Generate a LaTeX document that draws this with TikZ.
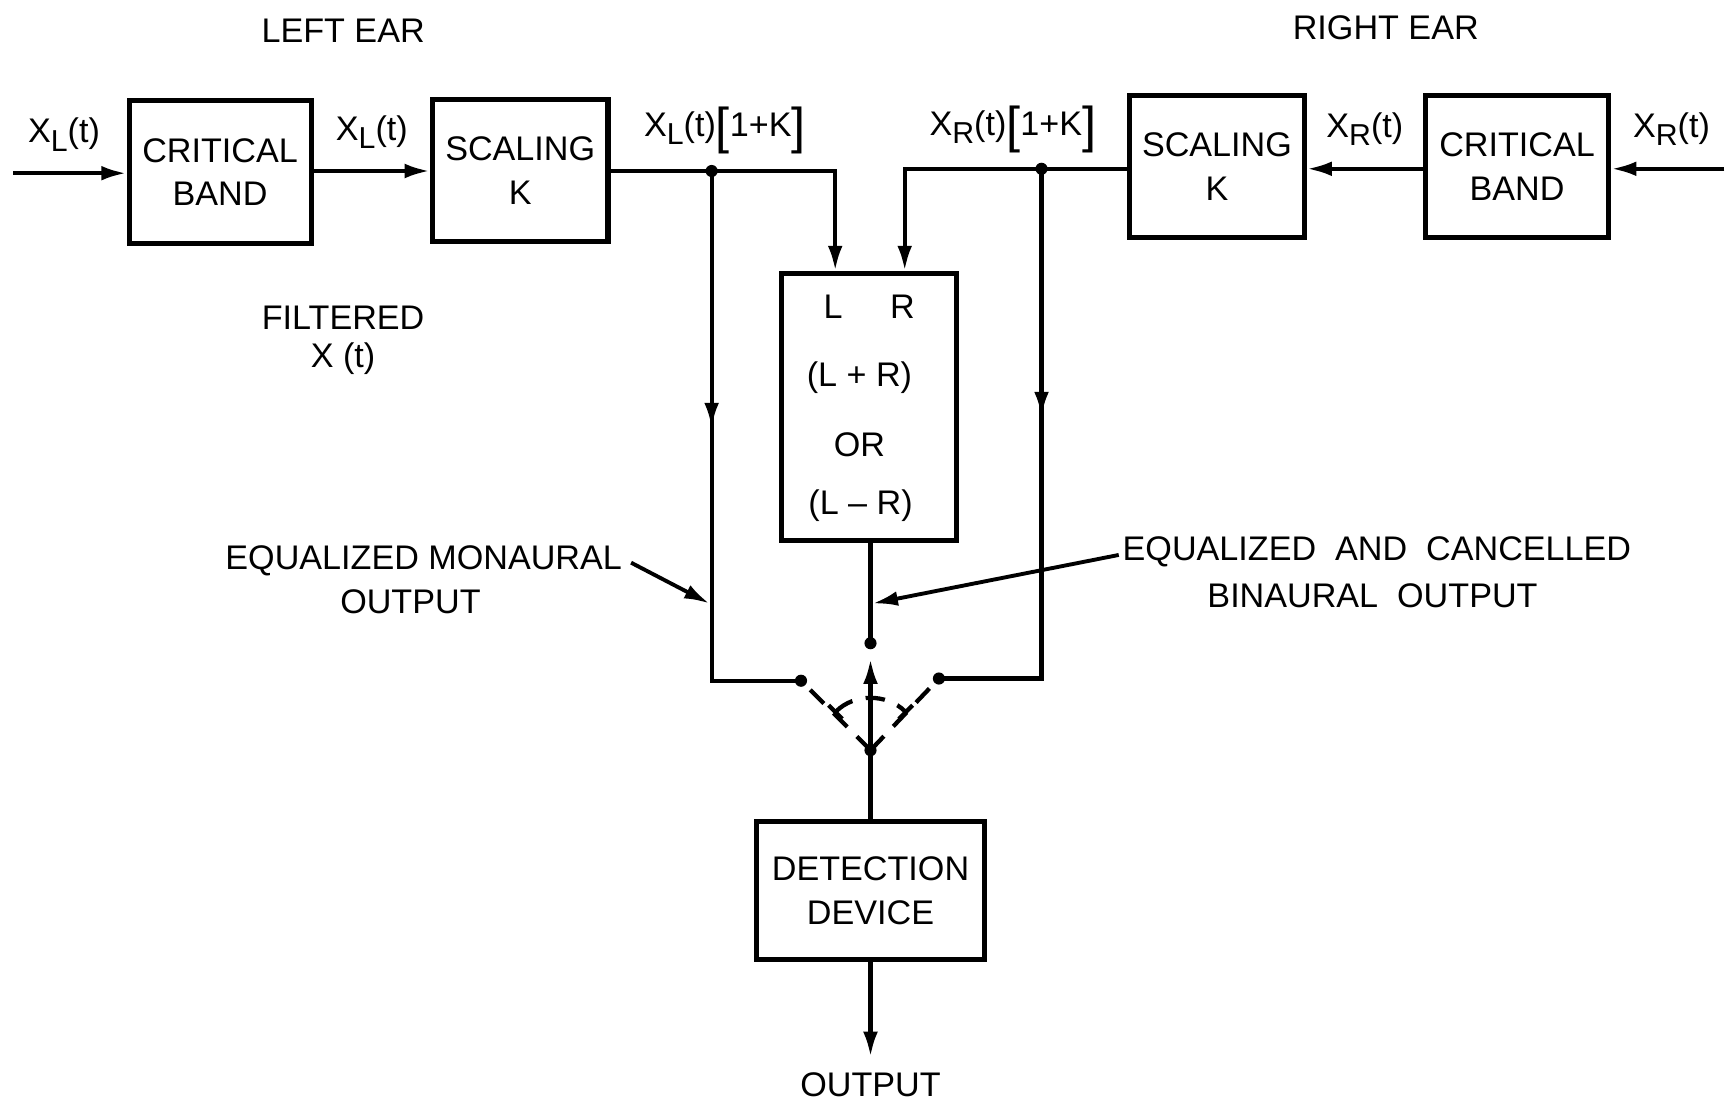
\documentclass[tikz,border=0pt]{standalone}
\usepackage{fontspec}
\setmainfont{Liberation Sans}
\usetikzlibrary{arrows.meta}
\newcommand\Xsub[1]{X\raisebox{-0.45ex}{\fontsize{7.8}{8}\selectfont #1}}
\newcommand\Brk[1]{{\fontsize{13}{13}\selectfont\raisebox{-0.25ex}{#1}}}
\begin{document}
\begin{tikzpicture}[x=0.01cm,y=-0.01cm,
  font=\fontsize{8.8}{10}\selectfont,
  line width=1.1pt,
  >={Latex[length=6.5pt,width=3.8pt]},
  blk/.style={draw,line width=1.3pt,align=center,inner sep=0pt,font=\fontsize{8.8}{11.3}\selectfont},
  lbl/.style={inner sep=1pt,align=center},
  swline/.style={dashed,dash pattern=on 5pt off 3.5pt,line width=1.1pt}]
\useasboundingbox (0,0) rectangle (1568,1001);

% boxes
\node[blk,minimum width=1.65cm,minimum height=1.30cm] (critL) at (199.5,156) {CRITICAL\\BAND};
\node[blk,minimum width=1.59cm,minimum height=1.29cm] (scaleL) at (471.5,154.5) {SCALING\\K};
\node[blk,minimum width=1.59cm,minimum height=2.42cm] (lr) at (787.5,369) {};
\node[blk,minimum width=1.58cm,minimum height=1.28cm] (scaleR) at (1103,151) {SCALING\\K};
\node[blk,minimum width=1.66cm,minimum height=1.28cm] (critR) at (1375,151) {CRITICAL\\BAND};
\node[blk,minimum width=2.06cm,minimum height=1.25cm] (det) at (789,807.5) {DETECTION\\DEVICE};

% texts in LR box
\node[lbl] (tL) at (755,278) {L};
\node[lbl] (tR) at (818,278) {R};
\node[lbl] (tsum) at (779,342) {(L + R)};
\node[lbl] (tor) at (779,403) {OR};
\node[lbl] (tdiff) at (780,458) {(L -- R)};

% titles and labels
\node[lbl] (leftear) at (311,28) {LEFT EAR};
\node[lbl] (rightear) at (1256,25) {RIGHT EAR};
\node[lbl] (filt) at (311,288) {FILTERED};
\node[lbl] (filtx) at (311,325) {X (t)};
\node[lbl] (xl1) at (58,122) {\Xsub{L}(t)};
\node[lbl] (xl2) at (337,120) {\Xsub{L}(t)};
\node[lbl] (xl3) at (657,118) {\Xsub{L}(t)\Brk{[}1+K\Brk{]}};
\node[lbl] (xr3) at (918,117) {\Xsub{R}(t)\Brk{[}1+K\Brk{]}};
\node[lbl] (xr2) at (1237,117) {\Xsub{R}(t)};
\node[lbl] (xr1) at (1515,117) {\Xsub{R}(t)};
\node[lbl] (mon1) at (384,508) {EQUALIZED MONAURAL};
\node[lbl] (mon2) at (372,545) {OUTPUT};
\node[lbl] (bin1) at (1248,500) {EQUALIZED\ \ AND\ \ CANCELLED};
\node[lbl] (bin2) at (1244,540) {BINAURAL\ \ OUTPUT};
\node[lbl] (outt) at (789,983) {OUTPUT};

% coordinates
\coordinate (inL) at (12,157);
\coordinate (inR) at (1563,153);
\coordinate (jL) at (645,155);
\coordinate (cL) at (757,155);
\coordinate (mL) at (645,388);
\coordinate (bL) at (645,617);
\coordinate (sL) at (726,617);
\coordinate (jR) at (944,153);
\coordinate (cR) at (820,153);
\coordinate (mR) at (944,378);
\coordinate (bR) at (944,615);
\coordinate (sR) at (851,615);
\coordinate (sC) at (789,583);
\coordinate (piv) at (789,680);
\coordinate (swtip) at (789,597);
\coordinate (outc) at (789,958);
\coordinate (monA) at (572,510);
\coordinate (monB) at (643,547);
\coordinate (binA) at (1014,503);
\coordinate (binB) at (791,547);

% left chain
\draw[->] (inL) -- (inL -| critL.west);
\draw[->] (critL.east |- 0,155) -- (scaleL.west |- 0,155);
\draw (scaleL.east |- jL) -- (jL);
\draw[->] (jL) -- (cL) -- (cL |- lr.north);
\draw (jL) -- (bL) -- (sL);
\draw[->] (jL) -- (mL);

% right chain
\draw[->] (inR) -- (inR -| critR.east);
\draw[->] (critR.west |- 0,153) -- (scaleR.east |- 0,153);
\draw (scaleR.west |- jR) -- (jR);
\draw[->] (jR) -- (cR) -- (cR |- lr.north);
\draw (jR) -- (bR) -- (sR);
\draw[->] (jR) -- (mR);

% centre
\draw (sC |- lr.south) -- (sC);
\draw[swline] (piv) -- (sL);
\draw[swline] (piv) -- (sR);
\draw[swline,{Bar[width=5pt]}-{Bar[width=5pt]}] (piv) ++(-33.2,-33.2) arc[start angle=135,end angle=45,radius=0.47cm];
\draw[->] (piv) -- (swtip);
\draw (piv) -- (det.north);
\draw[->] (det.south) -- (outc);

% dots
\foreach \p in {jL,jR,sL,sR,sC,piv} \fill (\p) circle (0.55mm);

% pointer arrows
\draw[->,line width=1pt] (monA) -- (monB);
\draw[->,line width=1pt] (binA) -- (binB);
\end{tikzpicture}
\end{document}
